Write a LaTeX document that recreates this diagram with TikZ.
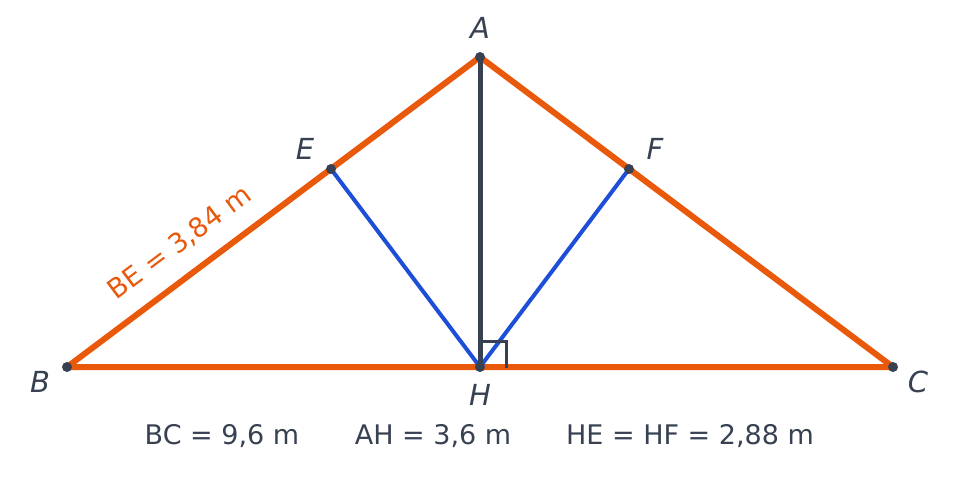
\documentclass[tikz,border=0pt]{standalone}
\usepackage{fontspec}
\setmainfont{DejaVu Sans}
\definecolor{ink}{HTML}{374151}
\definecolor{orng}{HTML}{E8590C}
\definecolor{blu}{HTML}{1D4ED8}
\begin{document}
\begin{tikzpicture}[x=1pt,y=-1pt,
  pt/.style={circle,fill=ink,inner sep=0pt,minimum size=10pt},
  lbl/.style={text=ink,font=\fontsize{29}{33}\selectfont\itshape,inner sep=0pt},
  info/.style={text=ink,font=\fontsize{27}{31}\selectfont,inner sep=0pt},
  side/.style={draw=orng,line width=6pt,line cap=round,line join=round},
  foot/.style={draw=blu,line width=4pt,line cap=round},
  alt/.style={draw=ink,line width=5pt,line cap=round}]
\useasboundingbox (0,0) rectangle (960,477);
\coordinate (A) at (480,57);
\coordinate (B) at (67,367);
\coordinate (C) at (893,367);
\coordinate (H) at (480,367);
\coordinate (E) at (331,169);
\coordinate (F) at (629,169);
\draw[side] (A) -- (B) -- (C) -- cycle;
\draw[foot] (H) -- (E);
\draw[foot] (H) -- (F);
\draw[alt] (A) -- (H);
\draw[ink,line width=3pt] (480,341) -- (506,341) -- (506,368);
\node[pt] (pA) at (A) {};
\node[pt] (pB) at (B) {};
\node[pt] (pC) at (C) {};
\node[pt] (pH) at (H) {};
\node[pt] (pE) at (E) {};
\node[pt] (pF) at (F) {};
\node[lbl] (lA) at (480,28) {A};
\node[lbl] (lE) at (305,149) {E};
\node[lbl] (lF) at (655,149) {F};
\node[lbl] (lB) at (40,382) {B};
\node[lbl] (lC) at (918,382) {C};
\node[lbl] (lH) at (480,395) {H};
\node[text=orng,font=\fontsize{27}{31}\selectfont,inner sep=0pt,rotate=36.87] (lBE) at (180,243) {BE = 3,84 m};
\node[info] (iBC) at (222,436) {BC = 9,6 m};
\node[info] (iAH) at (433,436) {AH = 3,6 m};
\node[info] (iHE) at (690,436) {HE = HF = 2,88 m};
\end{tikzpicture}
\end{document}
